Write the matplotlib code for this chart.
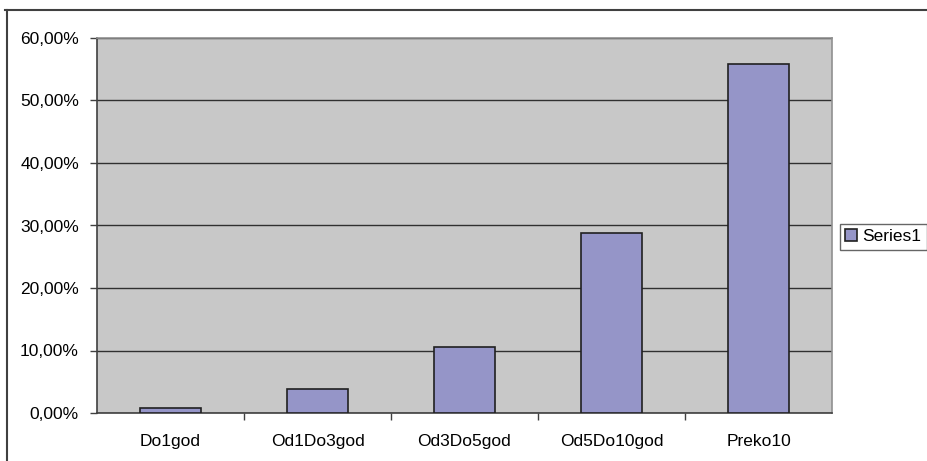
import matplotlib
matplotlib.use("Agg")
import matplotlib.pyplot as plt
from matplotlib.lines import Line2D
from matplotlib.ticker import FuncFormatter, FixedLocator

categories = ["Do1god", "Od1Do3god", "Od3Do5god", "Od5Do10god", "Preko10"]
values = [0.8, 3.84, 10.56, 28.75, 55.85]
y_ticks = [0, 10, 20, 30, 40, 50, 60]

plt.rcParams["font.family"] = ["Liberation Sans", "DejaVu Sans"]

W, H = 927, 461
fig = plt.figure(figsize=(W / 100, H / 100), dpi=100)
fig.patch.set_facecolor("white")

# outer chart frame (top and left edges)
fig.add_artist(Line2D([5 / W, 1.0], [1 - 10 / H, 1 - 10 / H], color="#404040", lw=1.5))
fig.add_artist(Line2D([7 / W, 7 / W], [0, 1 - 10 / H], color="#404040", lw=1.5))

ax = fig.add_axes([97 / W, 1 - 413 / H, (832 - 97) / W, (413 - 38) / H])
ax.set_facecolor("#C8C8C8")

x = list(range(len(categories)))
ax.bar(x, values, width=0.41, color="#9595C8", edgecolor="#202020", linewidth=1.2,
       zorder=3, label="Series1")

ax.set_xlim(-0.5, len(categories) - 0.5)
ax.set_ylim(0, 60)
ax.set_yticks(y_ticks)
ax.yaxis.set_major_formatter(FuncFormatter(lambda v, p: f"{v:.2f}%".replace(".", ",")))
ax.grid(axis="y", color="#303030", linewidth=1.0, zorder=1)

# category labels centred, tick marks on the category boundaries
ax.xaxis.set_major_locator(FixedLocator([i + 0.5 for i in range(len(categories) - 1)]))
ax.xaxis.set_minor_locator(FixedLocator(x))
ax.set_xticklabels([], minor=False)
ax.set_xticklabels(categories, minor=True)
ax.tick_params(axis="x", which="minor", length=0, pad=15, labelsize=12.5)
ax.tick_params(axis="x", which="major", length=5, width=1, color="#404040", direction="out")
ax.tick_params(axis="y", length=5, width=1, color="#404040", direction="out", labelsize=12.5, pad=8)

for side in ("top", "right"):
    ax.spines[side].set_color("#909090")
    ax.spines[side].set_linewidth(1.2)
for side in ("left", "bottom"):
    ax.spines[side].set_color("#404040")
    ax.spines[side].set_linewidth(1.2)

leg = fig.legend(loc="upper left", bbox_to_anchor=(840 / W, 1 - 224 / H), frameon=True,
                 fontsize=12.5, handlelength=0.7, handleheight=0.7, handletextpad=0.3,
                 borderpad=0.3, borderaxespad=0, fancybox=False)
leg.get_frame().set_edgecolor("#404040")
leg.get_frame().set_linewidth(1.0)

fig.savefig("out.png", dpi=100)
